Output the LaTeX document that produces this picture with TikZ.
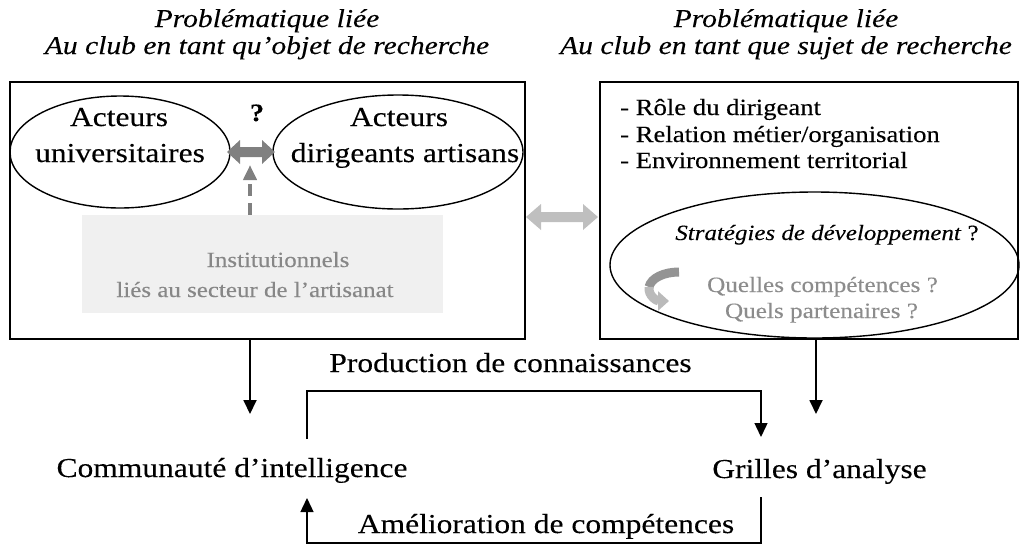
\documentclass[tikz,border=0pt]{standalone}
\usepackage{fontspec}
\setmainfont{Liberation Serif}[FakeStretch=1.15,FakeBold=0.2]
\usetikzlibrary{arrows.meta,shapes.geometric}
\newcommand{\dblarrow}[7]{% style, xL, xR, y, shaft half, head half, head length
  \fill[#1] (#2,#4) -- (#2+#7,#4-#6) -- (#2+#7,#4-#5) -- (#3-#7,#4-#5) -- (#3-#7,#4-#6)
    -- (#3,#4) -- (#3-#7,#4+#6) -- (#3-#7,#4+#5) -- (#2+#7,#4+#5) -- (#2+#7,#4+#6) -- cycle;}
\begin{document}
\begin{tikzpicture}[x=1pt,y=-1pt,
  ttl/.style={font=\fontsize{25.7}{28}\selectfont\itshape, inner sep=0, anchor=base},
  bigt/.style={font=\fontsize{27.4}{30}\selectfont, inner sep=0, anchor=base},
  listt/.style={font=\fontsize{23.2}{26}\selectfont, inner sep=0, anchor=base west},
  smallt/.style={font=\fontsize{21.7}{24}\selectfont, inner sep=0, anchor=base},
  frame/.style={draw, line width=1.6pt, inner sep=0},
  oval/.style={draw, ellipse, line width=1.4pt, inner sep=0},
  arr/.style={line width=1.8pt, -{Triangle[width=13pt,length=14pt]}},
  loopline/.style={line width=1.4pt, -{Triangle[width=13pt,length=14pt]}},
]
\useasboundingbox (0,0) rectangle (1020,547);

% titles
\node[ttl] (t1) at (267,27) {Problématique liée};
\node[ttl] (t2) at (267,54) {Au club en tant qu’objet de recherche};
\node[ttl] (t3) at (786,27) {Problématique liée};
\node[ttl] (t4) at (786,54) {Au club en tant que sujet de recherche};

% frames
\node[frame, minimum width=515, minimum height=257] (lbox) at (267.5,210.5) {};
\node[frame, minimum width=418, minimum height=257] (rbox) at (809,210.5) {};

% left content
\node[oval, minimum width=220, minimum height=112] (eu) at (120,152) {};
\node[oval, minimum width=250, minimum height=114] (ed) at (398,152) {};
\node[bigt] (u1) at (119,126) {Acteurs};
\node[bigt] (u2) at (120,162) {universitaires};
\node[bigt] (d1) at (399,126) {Acteurs};
\node[bigt] (d2) at (405,162) {dirigeants artisans};
\node[bigt, font=\fontsize{25}{28}\selectfont\bfseries] (q) at (257,121) {?};
\dblarrow{black!50}{227}{275}{152}{5}{12}{13}

\node[fill=black!6, minimum width=361, minimum height=98, inner sep=0] (inst) at (262.5,264) {};
\node[smallt, text=black!47] (i1) at (278,267) {Institutionnels};
\node[smallt, text=black!47] (i2) at (255,297) {liés au secteur de l’artisanat};
\coordinate (dtip) at (250,165);
\draw[black!50, line width=4.5pt, dash pattern=on 12pt off 7pt,
  -{Triangle[width=13pt,length=15pt]}] (dtip |- inst.north) -- (dtip);

% link between boxes
\dblarrow{black!25}{526}{598}{217}{5}{13}{15}

% right content
\node[listt] (r1) at (620,115) {- Rôle du dirigeant};
\node[listt] (r2) at (620,142) {- Relation métier/organisation};
\node[listt] (r3) at (620,168) {- Environnement territorial};
\node[oval, minimum width=409, minimum height=146] (es) at (814.5,265) {};
\node[smallt] (s1) at (827,240) {\textit{Stratégies de développement} ?};
\node[smallt, font=\fontsize{21.9}{24}\selectfont, text=black!45] (s2) at (822.5,292) {Quelles compétences ?};
\node[smallt, font=\fontsize{21.9}{24}\selectfont, text=black!45] (s3) at (821.5,318) {Quels partenaires ?};
\draw[line width=9pt, black!42] (679,272) .. controls (664,272) and (651,278) .. (649,287);
\draw[line width=9pt, black!27, -{Triangle[width=19pt,length=11pt]}] (649,287) .. controls (648,296) and (657,301) .. (669,301);

% bottom
\node[bigt] (comm) at (232,477) {Communauté d’intelligence};
\node[bigt] (gr) at (819.5,478) {Grilles d’analyse};
\node[bigt] (prod) at (510.5,372) {Production de connaissances};
\node[bigt] (amel) at (546,533) {Amélioration de compétences};

\coordinate (a1) at (250,414);
\coordinate (a2) at (816,414);
\draw[arr] (a1 |- lbox.south) -- (a1);
\draw[arr] (a2 |- rbox.south) -- (a2);

\coordinate (p0) at (307,439);
\coordinate (p1) at (761,437);
\coordinate (ptop) at (0,391);
\draw[loopline] (p0) -- (p0 |- ptop) -- (p1 |- ptop) -- (p1);

\coordinate (m0) at (761,497);
\coordinate (m1) at (307,498);
\coordinate (mbot) at (0,543);
\draw[loopline] (m0) -- (m0 |- mbot) -- (m1 |- mbot) -- (m1);
\end{tikzpicture}
\end{document}
